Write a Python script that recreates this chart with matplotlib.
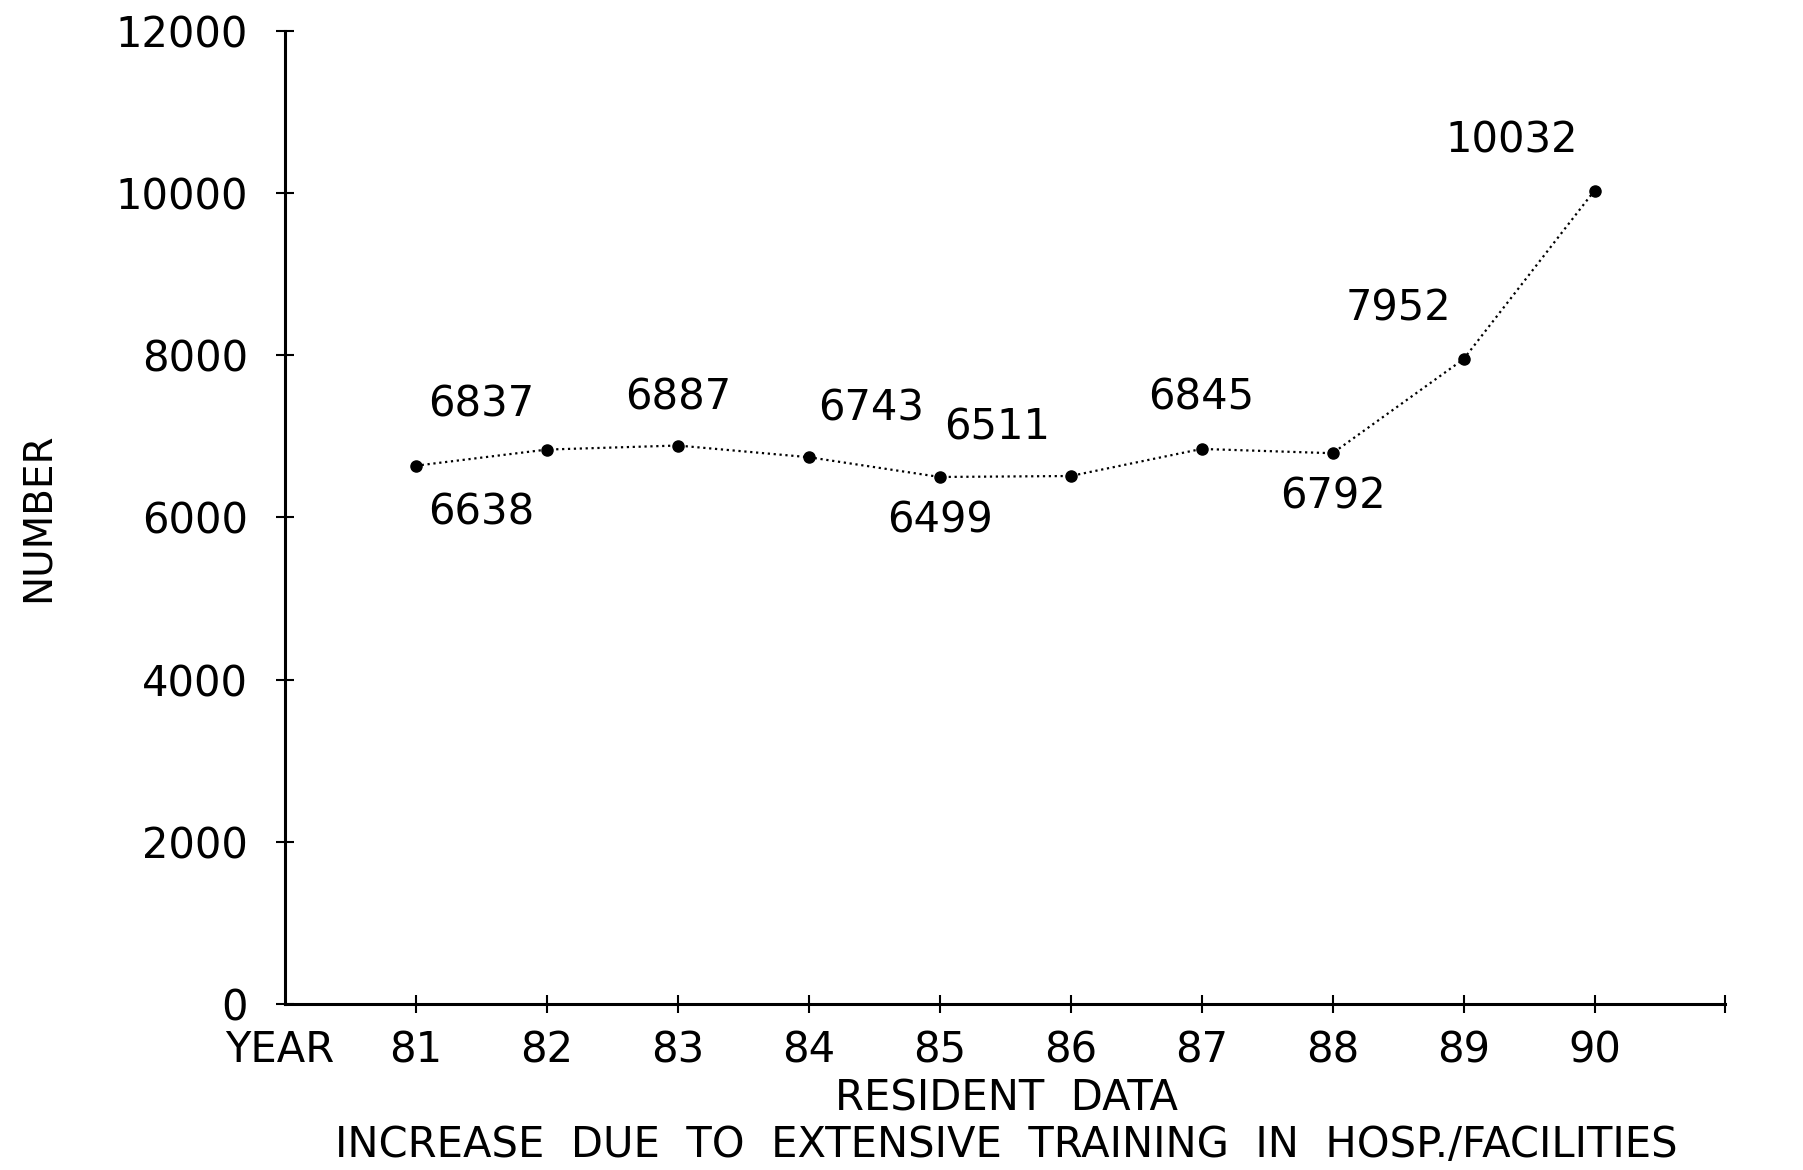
import matplotlib.pyplot as plt
import numpy as np

# resident counts per year
years = [81, 82, 83, 84, 85, 86, 87, 88, 89, 90]
residents = [6638, 6837, 6887, 6743, 6499, 6511, 6845, 6792, 7952, 10032]

# data labels as placed on the original chart (x, y, text)
label_x = [81.5, 81.5, 83.0, 84.48, 85.44, 85.0, 87.0, 88.0, 88.5, 89.37]
label_y = [7390, 6057, 7475, 7348, 7106, 5957, 7475, 6255, 8582, 10652]
label_txt = ["6837", "6638", "6887", "6743", "6511", "6499", "6845", "6792", "7952", "10032"]

y_ticks = [0, 2000, 4000, 6000, 8000, 10000, 12000]

plt.rcParams['font.family'] = ['DejaVu Sans']
fs = 30

fig = plt.figure(figsize=(18.03, 11.70), dpi=100)
ax = fig.add_axes([0.158, 0.142, 0.799, 0.8315])

ax.plot(years, residents, linestyle=':', color='black', linewidth=1.6,
        marker='o', markersize=8)

for x, y, t in zip(label_x, label_y, label_txt):
    ax.text(x, y, t, fontsize=fs, ha='center', va='center')

ax.set_xlim(80, 91)
ax.set_ylim(0, 12000)
ax.set_xticks(list(range(81, 92)))
ax.set_xticklabels([str(y) for y in years] + [""])
ax.set_yticks(y_ticks)

ax.spines['top'].set_visible(False)
ax.spines['right'].set_visible(False)
ax.spines['left'].set_linewidth(2.2)
ax.spines['bottom'].set_linewidth(2.2)

ax.tick_params(axis='both', direction='inout', length=13, width=1.5,
               labelsize=fs)
ax.tick_params(axis='y', pad=20)
ax.tick_params(axis='x', pad=12)

fig.text(0.125, 0.1026, "YEAR", fontsize=fs, va='center', ha='left')
fig.text(0.558, 0.0607, "RESIDENT  DATA", fontsize=fs, ha='center', va='center')
fig.text(0.558, 0.021, "INCREASE  DUE  TO  EXTENSIVE  TRAINING  IN  HOSP./FACILITIES",
         fontsize=fs, ha='center', va='center')
fig.text(0.021, 0.558, "NUMBER", fontsize=28, rotation=90, ha='center', va='center')

fig.savefig('out.png', dpi=100, facecolor='white')
